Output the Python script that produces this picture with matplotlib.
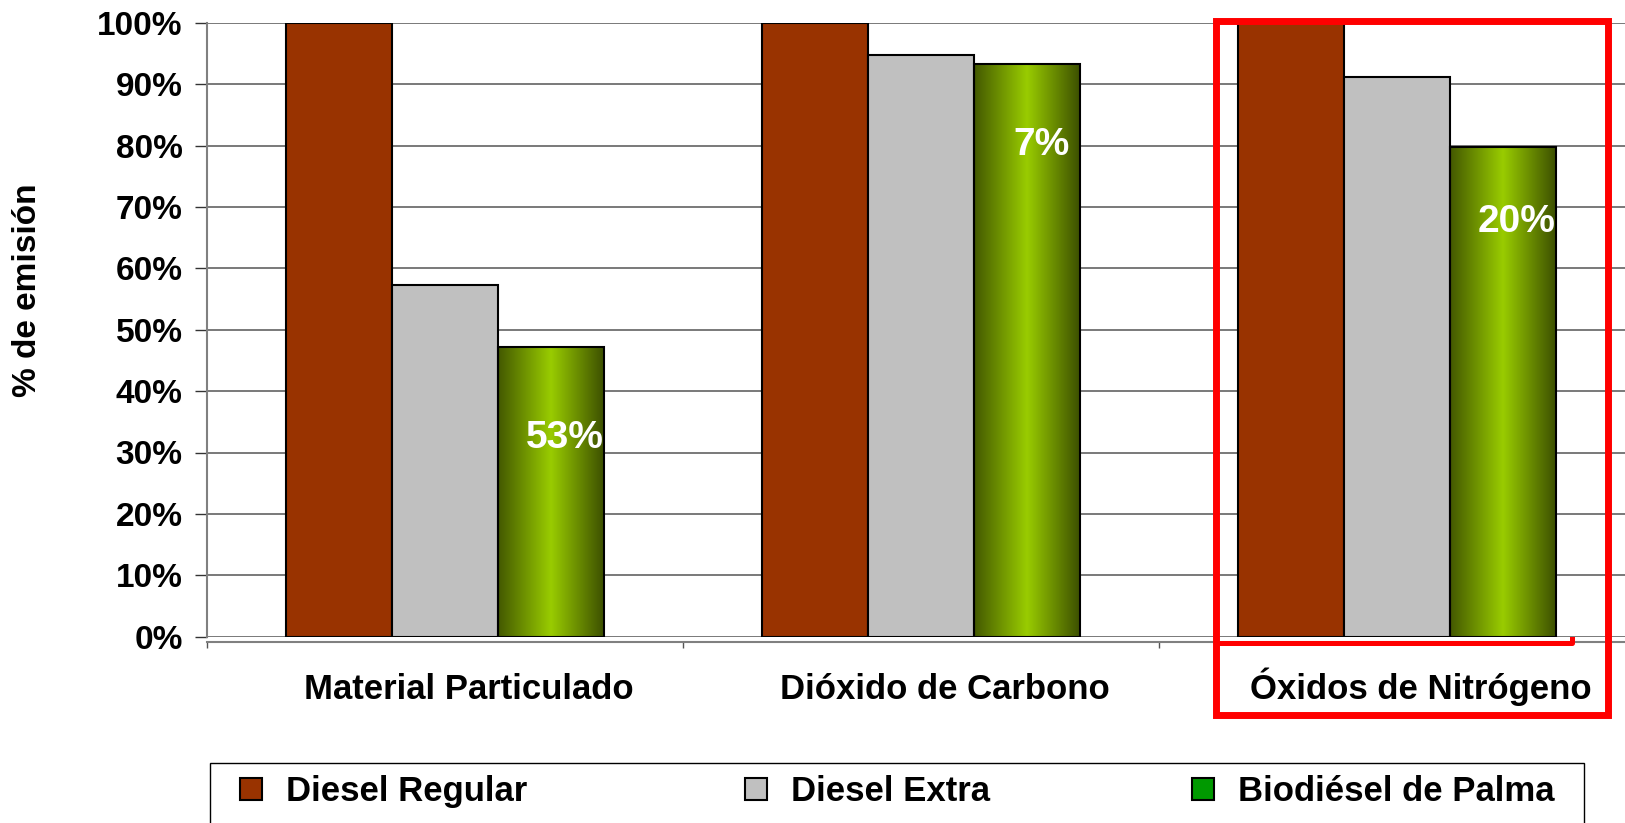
import numpy as np
import matplotlib
matplotlib.use('Agg')
import matplotlib.pyplot as plt
from matplotlib.colors import LinearSegmentedColormap
from matplotlib.patches import Rectangle
from matplotlib.lines import Line2D

plt.rcParams['font.family'] = ['Liberation Sans', 'DejaVu Sans']
plt.rcParams['font.weight'] = 'bold'

# Data
categories = ['Material Particulado', 'Dióxido de Carbono', 'Óxidos de Nitrógeno']
series = ['Diesel Regular', 'Diesel Extra', 'Biodiésel de Palma']
regular = [100, 100, 100]
extra = [57.3, 94.7, 91.2]
biodiesel = [47.2, 93.3, 79.8]
reduction_labels = ['53%', '7%', '20%']
reduction_y = [32.4, 80.1, 67.6]

colors = ['#993300', '#c0c0c0', '#009900']

W, H = 1625, 823
fig = plt.figure(figsize=(W / 100, H / 100), dpi=100)
ax = fig.add_axes([207 / W, 186.3 / H, 1428 / W, 614 / H])

x = np.arange(len(categories))
w = 2 / 9

ax.bar(x - w, regular, w, color=colors[0], edgecolor='black', linewidth=1.5, zorder=3)
ax.bar(x, extra, w, color=colors[1], edgecolor='black', linewidth=1.5, zorder=3)
bio = ax.bar(x + w, biodiesel, w, color='none', edgecolor='black', linewidth=1.5, zorder=3)

# horizontal gradient fill of the biodiesel bars
cmap = LinearSegmentedColormap.from_list('palma', ['#435800', '#99cc00', '#3d5000'])
grad = np.linspace(0, 1, 256).reshape(1, -1)
for b in bio:
    bx, by, bw, bh = b.get_x(), b.get_y(), b.get_width(), b.get_height()
    im = ax.imshow(grad, extent=[bx, bx + bw, by, by + bh], aspect='auto',
                   cmap=cmap, zorder=2.5, interpolation='bilinear')
    im.set_clip_path(b)

# reduction labels
for i, (txt, yv) in enumerate(zip(reduction_labels, reduction_y)):
    ax.text(x[i] + w + 0.03, yv, txt, color='white', fontsize=28, fontweight='bold',
            ha='center', va='center', zorder=4)

ax.set_xlim(-0.5, 2.5)
ax.set_ylim(0, 100)

ax.set_yticks(range(0, 101, 10))
ax.set_yticklabels([f'{v}%' for v in range(0, 101, 10)])
ax.yaxis.grid(True, color='#555555', linewidth=1.1, zorder=0)
ax.set_axisbelow(True)
ax.tick_params(axis='y', length=8.6, width=1, color='#333333', pad=9, labelsize=24)

# category labels sit a little right of the group centres
ax.set_xticks([-0.5, 0.5, 1.5, 2.5])
ax.set_xticklabels([])
ax.tick_params(axis='x', length=4.3, width=1, color='#555555')
for i, name in enumerate(categories):
    ax.text(x[i] + 0.05, -0.1015, name, transform=ax.get_xaxis_transform(),
            ha='center', va='baseline', fontsize=25, fontweight='bold')

for s in ['top', 'right']:
    ax.spines[s].set_visible(False)
ax.spines['left'].set_color('#808080')
ax.spines['left'].set_linewidth(1.5)
ax.spines['bottom'].set_color('#808080')
ax.spines['bottom'].set_linewidth(1.5)
ax.spines['bottom'].set_position(('outward', 3.6))

fig.text(28 / W, 1 - 290 / H, '% de emisión', rotation=90, ha='center', va='center',
         fontsize=24, fontweight='bold')

# legend box (bottom runs off the picture)
fig.patches.append(Rectangle((210 / W, -0.1), (1584 - 210) / W, 0.1 + (H - 763) / H,
                             transform=fig.transFigure, facecolor='white',
                             edgecolor='black', linewidth=1))
legend_x = [240, 745, 1192]
for i, name in enumerate(series):
    x0 = legend_x[i]
    fig.patches.append(Rectangle((x0 / W, (H - 800) / H), 22 / W, 22 / H,
                                 transform=fig.transFigure, facecolor=colors[i],
                                 edgecolor='black', linewidth=1.5))
    fig.text((x0 + 46) / W, (H - 801) / H, name, ha='left', va='baseline',
             fontsize=25, fontweight='bold')

# red highlight around the third category
fig.patches.append(Rectangle((1215.5 / W, (H - 715) / H), (1608 - 1215.5) / W, (715 - 21) / H,
                             transform=fig.transFigure, facecolor='none',
                             edgecolor='#ff0000', linewidth=5))
fig.lines.append(Line2D([1221 / W, 1572 / W, 1572 / W], [(H - 643) / H, (H - 643) / H, (H - 639) / H],
                        transform=fig.transFigure, color='#ff0000', linewidth=3.6))

fig.savefig('out.png', dpi=100)
